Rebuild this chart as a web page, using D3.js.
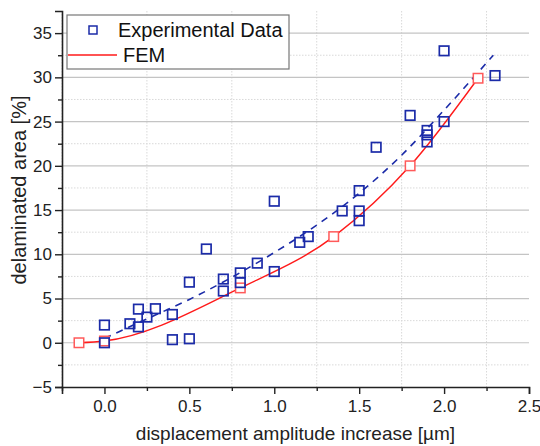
<!DOCTYPE html>
<html>
<head>
<meta charset="utf-8">
<script src="https://cdn.jsdelivr.net/npm/d3@7"></script>
<style>
  body { margin: 0; background: #fff; }
  svg { font-family: "Liberation Sans", Arial, sans-serif; }
</style>
</head>
<body>
<div id="chart"></div>
<script>
// Experimental data (blue squares)
var expX = [0.0, 0.0, 0.15, 0.2, 0.2, 0.25, 0.3, 0.4, 0.4, 0.5, 0.5, 0.6, 0.7, 0.7, 0.8, 0.8,
            0.9, 1.0, 1.0, 1.15, 1.2, 1.4, 1.5, 1.5, 1.5, 1.6, 1.8, 1.9, 1.9, 1.9, 2.0, 2.0, 2.3];
var expY = [2.0, 0.0, 2.15, 3.8, 1.8, 2.9, 3.85, 3.2, 0.35, 6.85, 0.45, 10.6, 7.2, 5.85, 7.9, 6.8,
            9.0, 16.0, 8.05, 11.35, 12.0, 14.9, 17.2, 14.9, 13.8, 22.1, 25.7, 24.0, 23.5, 22.7, 33.0, 25.0, 30.2];

// FEM results (red line + squares)
var femX = [-0.15, 0.0, 0.8, 1.35, 1.8, 2.2];
var femY = [0.0, 0.2, 6.2, 12.0, 20.0, 29.9];

var fitX = [0.0, 0.25, 0.5, 0.75, 1.0, 1.25, 1.5, 1.75, 2.0, 2.29];
var fitY = [0.5, 2.7, 4.9, 7.4, 10.2, 13.3, 16.9, 21.2, 26.3, 32.5];

var xTicks = [0.0, 0.5, 1.0, 1.5, 2.0, 2.5];
var yTicks = [-5, 0, 5, 10, 15, 20, 25, 30, 35];

var legendLabels = ["Experimental Data", "FEM"];

var blue = "#1b2ba8",
    red = "#ff1a1a",
    redMarker = "#ff5a5a";

var margins = { top: 11, right: 11, bottom: 59, left: 62 },
    width = 540 - margins.left - margins.right,
    height = 446 - margins.top - margins.bottom;

var svg = d3.select("#chart")
    .append("svg")
    .attr("width", 540)
    .attr("height", 446);

var g = svg.append("g")
    .attr("transform", "translate(" + margins.left + "," + margins.top + ")");

var x = d3.scaleLinear().domain([-0.25, 2.5]).range([0, width]);
var y = d3.scaleLinear().domain([-5, 37.5]).range([height, 0]);

// minor grid lines (dotted)
var minorX = d3.range(-0.25, 2.5, 0.5);
var minorY = d3.range(-2.5, 37.5, 5);

g.append("g").selectAll("line")
    .data(minorX)
    .enter().append("line")
    .attr("x1", function(d) { return x(d); })
    .attr("x2", function(d) { return x(d); })
    .attr("y1", 0).attr("y2", height)
    .attr("stroke", "#d9d9d9")
    .attr("stroke-dasharray", "1.5,1.5");

g.append("g").selectAll("line")
    .data(minorY)
    .enter().append("line")
    .attr("x1", 0).attr("x2", width)
    .attr("y1", function(d) { return y(d); })
    .attr("y2", function(d) { return y(d); })
    .attr("stroke", "#d9d9d9")
    .attr("stroke-dasharray", "1.5,1.5");

// major horizontal grid lines
g.append("g").selectAll("line")
    .data(yTicks.filter(function(d) { return d > -5; }))
    .enter().append("line")
    .attr("x1", 0).attr("x2", width)
    .attr("y1", function(d) { return y(d); })
    .attr("y2", function(d) { return y(d); })
    .attr("stroke", "#c4c4c4")
    .attr("stroke-width", 1.2);

// dashed fit line
var fitData = fitX.map(function(v, i) { return {x: v, y: fitY[i]}; });
g.append("path")
    .datum(fitData)
    .attr("fill", "none")
    .attr("stroke", blue)
    .attr("stroke-width", 1.6)
    .attr("stroke-dasharray", "7,6")
    .attr("d", d3.line()
        .x(function(d) { return x(d.x); })
        .y(function(d) { return y(d.y); })
        .curve(d3.curveMonotoneX));

// FEM line
var femData = femX.map(function(v, i) { return {x: v, y: femY[i]}; });
g.append("path")
    .datum(femData)
    .attr("fill", "none")
    .attr("stroke", red)
    .attr("stroke-width", 1.4)
    .attr("d", d3.line()
        .x(function(d) { return x(d.x); })
        .y(function(d) { return y(d.y); })
        .curve(d3.curveMonotoneX));

var sq = 9.5;

g.append("g").selectAll("rect")
    .data(femData)
    .enter().append("rect")
    .attr("x", function(d) { return x(d.x) - sq / 2; })
    .attr("y", function(d) { return y(d.y) - sq / 2; })
    .attr("width", sq).attr("height", sq)
    .attr("fill", "#fff")
    .attr("stroke", redMarker)
    .attr("stroke-width", 1.5);

var expData = expX.map(function(v, i) { return {x: v, y: expY[i]}; });
g.append("g").selectAll("rect")
    .data(expData)
    .enter().append("rect")
    .attr("x", function(d) { return x(d.x) - sq / 2; })
    .attr("y", function(d) { return y(d.y) - sq / 2; })
    .attr("width", sq).attr("height", sq)
    .attr("fill", "none")
    .attr("stroke", blue)
    .attr("stroke-width", 1.7);

// axes
g.append("g")
    .attr("transform", "translate(0," + height + ")")
    .call(d3.axisBottom(x).tickValues(xTicks).tickSize(7).tickPadding(6)
        .tickFormat(d3.format(".1f")));

g.append("g")
    .attr("transform", "translate(0," + height + ")")
    .call(d3.axisBottom(x).tickValues(minorX).tickSize(4).tickFormat(""))
    .select(".domain").remove();

g.append("g")
    .call(d3.axisLeft(y).tickValues(yTicks).tickSize(7).tickPadding(3)
        .tickFormat(function(d) { return d < 0 ? "\u2212" + Math.abs(d) : d; }));

g.append("g")
    .call(d3.axisLeft(y).tickValues(minorY).tickSize(4).tickFormat(""))
    .select(".domain").remove();

g.selectAll(".domain").attr("stroke", "#222").attr("stroke-width", 1.6);
g.selectAll(".tick line").attr("stroke", "#222").attr("stroke-width", 1.4);
g.selectAll(".tick text")
    .attr("fill", "#222")
    .style("font-size", "17px")
    .style("font-family", "'Liberation Sans', Arial, sans-serif");

// axis titles
svg.append("text")
    .attr("x", margins.left + x(1.125))
    .attr("y", 440)
    .attr("text-anchor", "middle")
    .attr("fill", "#222")
    .style("font-size", "19px")
    .text("displacement amplitude increase [\u00b5m]");

svg.append("text")
    .attr("transform", "translate(26," + 190 + ") rotate(-90)")
    .attr("text-anchor", "middle")
    .attr("fill", "#222")
    .style("font-size", "20px")
    .text("delaminated area [%]");

// legend
var legend = svg.append("g").attr("transform", "translate(67,15)");
legend.append("rect")
    .attr("width", 222).attr("height", 54)
    .attr("fill", "#fff")
    .attr("stroke", "#777")
    .attr("stroke-width", 1.2);

legend.append("rect")
    .attr("x", 26 - 4).attr("y", 15 - 4)
    .attr("width", 8).attr("height", 8)
    .attr("fill", "none")
    .attr("stroke", blue)
    .attr("stroke-width", 1.5);

legend.append("line")
    .attr("x1", 1).attr("x2", 50)
    .attr("y1", 40).attr("y2", 40)
    .attr("stroke", red)
    .attr("stroke-width", 1.4);

legend.selectAll("text.lbl")
    .data(legendLabels)
    .enter().append("text")
    .attr("class", "lbl")
    .attr("x", function(d, i) { return i === 0 ? 51 : 56; })
    .attr("y", function(d, i) { return 22 + i * 25; })
    .attr("fill", "#111")
    .style("font-size", "20px")
    .text(function(d) { return d; });
</script>
</body>
</html>
